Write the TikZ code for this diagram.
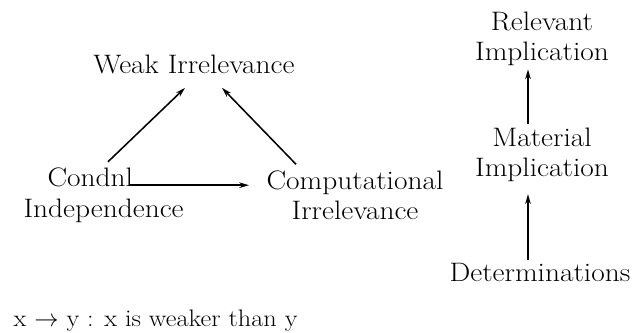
\documentclass[tikz,border=0pt]{standalone}
\usepackage{amsmath}
\usepackage{fontspec}
\setmainfont{Latin Modern Roman}[FakeStretch=1.1]
\usepackage{tikz}
\usetikzlibrary{positioning,arrows.meta}

\begin{document}
\begin{tikzpicture}[>={Stealth[length=7pt,width=4pt]},line width=1.1pt,
    every node/.style={font=\fontsize{19}{21.5}\selectfont,align=center,inner sep=2pt}]
        \useasboundingbox (0,0) rectangle (15.875,8.3);

        \node (weak_irr)   at (4.85,6.7)   {Weak Irrelevance};
        \node[align=left] (condnl_ind) at (2.59,3.42) {\hspace*{0.6cm}Condnl\\Independence};
        \node (comp_irr)   at (8.875,3.42) {Computational\\Irrelevance};
        \node (rel_imp)    at (13.55,7.33) {Relevant\\Implication};
        \node (mat_imp)    at (13.55,4.43) {Material\\Implication};
        \node (determ)     at (13.5,1.48)  {Determinations};
        \node[anchor=base west,font=\fontsize{17}{20}\selectfont] (legend) at (0.25,0.15)
            {x $\rightarrow$ y : x is weaker than y};

        \path[->]
        ([xshift=0.11cm,yshift=0.07cm]condnl_ind.north)
        edge ([xshift=-0.225cm,yshift=-0.27cm]weak_irr.south)

        ([xshift=-1.475cm,yshift=0.07cm]comp_irr.north)
        edge ([xshift=0.7cm,yshift=-0.27cm]weak_irr.south)

        ([xshift=0.66cm,yshift=0.25cm]condnl_ind.center)
        edge ([xshift=-0.35cm,yshift=0.25cm]comp_irr.west)

        ([xshift=-0.35cm]mat_imp.north)
        edge ([xshift=-0.35cm]rel_imp.south)

        ([xshift=-0.35cm]mat_imp.south |- determ.north)
        edge ([xshift=-0.35cm,yshift=-0.22cm]mat_imp.south);

    \end{tikzpicture}
\end{document}
